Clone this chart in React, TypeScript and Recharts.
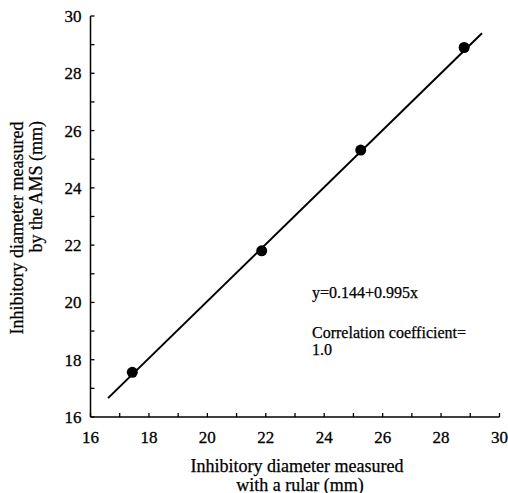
import React from 'react';
import { ScatterChart, Scatter, XAxis, YAxis, Customized } from 'recharts';

const xTicks = [16, 17, 18, 19, 20, 21, 22, 23, 24, 25, 26, 27, 28, 29, 30];
const yTicks = [16, 17, 18, 19, 20, 21, 22, 23, 24, 25, 26, 27, 28, 29, 30];
const rulerValues = [17.43, 21.86, 25.25, 28.79];
const amsValues = [17.56, 21.8, 25.32, 28.9];
const fitLineX = [16.6, 29.4];
const fitLineY = [16.66, 29.4];
const xTitle = ['Inhibitory diameter measured', 'with a rular (mm)'];
const yTitle = ['Inhibitory diameter measured', 'by the AMS (mm)'];
const annotation = ['y=0.144+0.995x', 'Correlation coefficient=', '1.0'];

const points = rulerValues.map((x, i) => ({ x, y: amsValues[i] }));
const fitLine = fitLineX.map((x, i) => ({ x, y: fitLineY[i] }));

const FONT = '"Liberation Serif", "Times New Roman", serif';
const W = 508;
const H = 493;
const M = { top: 16, right: 8.5, left: 89.5, bottom: 75 };

const XTick = (props: any) => {
  const { x, y, payload } = props;
  const v = payload.value;
  return (
    <g>
      <line x1={x} x2={x} y1={y} y2={y - 4} stroke="#000" strokeWidth={1.3} />
      {v % 2 === 0 && (
        <text x={x} y={y + 25.5} textAnchor="middle" style={{ fontFamily: FONT, fontSize: 17 }}
          fill="#000" stroke="#000" strokeWidth={0.3}>
          {v}
        </text>
      )}
    </g>
  );
};

const YTick = (props: any) => {
  const { x, y, payload } = props;
  const v = payload.value;
  return (
    <g>
      <line x1={x} x2={x + 4} y1={y} y2={y} stroke="#000" strokeWidth={1.3} />
      {v % 2 === 0 && (
        <text x={x - 9} y={y + 6} textAnchor="end" style={{ fontFamily: FONT, fontSize: 17 }}
          fill="#000" stroke="#000" strokeWidth={0.3}>
          {v}
        </text>
      )}
    </g>
  );
};

const Texts = () => {
  return (
    <g style={{ fontFamily: FONT }} fill="#000" stroke="#000" strokeWidth={0.25}>
      <text x={297} y={472} textAnchor="middle" fontSize={18}>{xTitle[0]}</text>
      <text x={300} y={490.5} textAnchor="middle" fontSize={18}>{xTitle[1]}</text>
      <g transform="translate(22.5, 228) rotate(-90)">
        <text x={0} y={0} textAnchor="middle" fontSize={18}>{yTitle[0]}</text>
        <text x={107} y={19} textAnchor="end" fontSize={18}>{yTitle[1]}</text>
      </g>
      <text x={312} y={298} fontSize={16}>{annotation[0]}</text>
      <text x={312} y={338} fontSize={16}>{annotation[1]}</text>
      <text x={312} y={354.5} fontSize={16}>{annotation[2]}</text>
    </g>
  );
};

export default function App() {
  return (
    <div style={{ position: 'fixed', left: 0, top: 0, width: W, height: H, background: '#fff', fontFamily: FONT }}>
      <ScatterChart width={W} height={H} margin={M} style={{ overflow: 'visible', fontFamily: FONT }}>
        <XAxis type="number" dataKey="x" domain={[16, 30]} ticks={xTicks} interval={0} height={1}
          tickSize={0} tickMargin={0} tickLine={false} tick={<XTick />}
          axisLine={{ stroke: '#000', strokeWidth: 1.5 }} allowDataOverflow />
        <YAxis type="number" dataKey="y" domain={[16, 30]} ticks={yTicks} interval={0} width={1}
          tickSize={0} tickMargin={0} tickLine={false} tick={<YTick />}
          axisLine={{ stroke: '#000', strokeWidth: 1.5 }} allowDataOverflow />
        <Scatter data={fitLine} line={{ stroke: '#000', strokeWidth: 2 }} shape={() => <g />} isAnimationActive={false} />
        <Scatter data={points} fill="#000" shape={(p: any) => <circle cx={p.cx} cy={p.cy} r={5.5} fill="#000" />} isAnimationActive={false} />
        <Customized component={Texts} />
      </ScatterChart>
    </div>
  );
}
